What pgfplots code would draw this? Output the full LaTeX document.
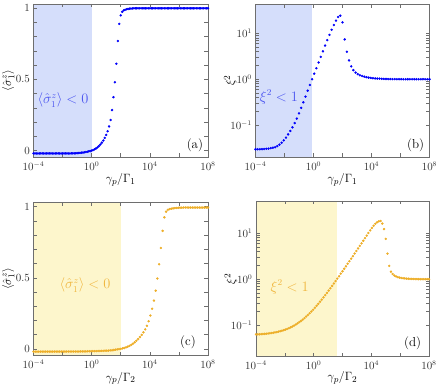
\documentclass[border=0pt]{standalone}
\usepackage{pgfplots}
\pgfplotsset{compat=1.18}
\usepackage{amsmath}

\definecolor{dotblue}{RGB}{0,0,250}
\definecolor{shadeblue}{RGB}{213,222,251}
\definecolor{textblue}{RGB}{75,85,240}
\definecolor{dotorange}{RGB}{237,174,40}
\definecolor{shadeyellow}{RGB}{253,246,204}
\definecolor{textorange}{RGB}{240,182,62}
\definecolor{framegray}{RGB}{110,110,110}

\pgfplotsset{
  panel/.style={
    scale only axis, width=174.5pt, height=153pt,
    anchor=south west,
    xmin=1e-4, xmax=1e8,
    xtick={1e-4,1,1e4,1e8}, minor xtick={1e-2,1e2,1e6},
    tick align=inside, major tick length=3.5pt, minor tick length=3.5pt,
    axis line style={framegray, line width=0.7pt},
    every tick/.style={framegray, line width=0.6pt},
    tick label style={font=\fontsize{10.5}{12}\selectfont, text=black!80},
    xticklabel style={yshift=-1pt},
    label style={font=\fontsize{12.5}{14}\selectfont},
    xlabel style={at={(axis description cs:0.5,-0.15)}, anchor=center},
    ylabel style={at={(axis description cs:-0.145,0.5)}, anchor=center},
    axis on top,
  },
  lin/.style={ymin=-0.045, ymax=1.03, ytick={0,0.5,1}, minor y tick num=4},
  lg/.style={ymin=0.02, ymax=44, ytick={0.1,1,10}},
  pts/.style={only marks, mark=*, mark size=1pt, color=#1, mark options={draw=#1, fill=#1}},
}
\tikzset{
  rtext/.style={font=\fontsize{13.5}{15}\selectfont, text=#1},
  plab/.style={font=\fontsize{13}{15}\selectfont, text=black},
}

\begin{document}
\begin{tikzpicture}
\path[use as bounding box] (0,0) rectangle (436pt,391pt);

% (a)
\begin{axis}[xmode=log, panel, lin, at={(33.5pt,234pt)},
  xlabel={$\gamma_p/\Gamma_1$}, ylabel={$\langle\hat{\sigma}_1^z\rangle$}]
\addplot[fill=shadeblue, draw=none] coordinates {(1e-4,-0.045) (1,-0.045) (1,1.03) (1e-4,1.03)};
\addplot[pts=dotblue] table[x expr={10^(\thisrow{e})}, y=y, row sep=\\] {
e y\\
-4.0 -0.020\\ -3.9 -0.020\\ -3.8 -0.020\\ -3.7 -0.020\\ -3.6 -0.020\\ -3.5 -0.020\\ -3.4 -0.020\\ -3.3 -0.020\\
-3.2 -0.020\\ -3.1 -0.020\\ -3.0 -0.020\\ -2.9 -0.020\\ -2.8 -0.020\\ -2.7 -0.020\\ -2.6 -0.020\\ -2.5 -0.020\\
-2.4 -0.020\\ -2.3 -0.020\\ -2.2 -0.020\\ -2.1 -0.020\\ -2.0 -0.020\\ -1.9 -0.020\\ -1.8 -0.020\\ -1.7 -0.020\\
-1.6 -0.020\\ -1.5 -0.020\\ -1.4 -0.019\\ -1.3 -0.019\\ -1.2 -0.019\\ -1.1 -0.019\\ -1.0 -0.018\\ -0.9 -0.017\\
-0.8 -0.016\\ -0.7 -0.015\\ -0.6 -0.014\\ -0.5 -0.012\\ -0.4 -0.010\\ -0.3 -0.008\\ -0.2 -0.005\\ -0.1 -0.003\\
0.0 0.000\\ 0.1 0.004\\ 0.2 0.009\\ 0.3 0.015\\ 0.4 0.023\\ 0.5 0.032\\ 0.6 0.043\\ 0.7 0.056\\
0.8 0.071\\ 0.9 0.089\\ 1.0 0.110\\ 1.1 0.136\\ 1.2 0.170\\ 1.3 0.215\\ 1.4 0.285\\ 1.5 0.375\\
1.6 0.480\\ 1.7 0.610\\ 1.8 0.770\\ 1.9 0.890\\ 2.0 0.950\\ 2.1 0.975\\ 2.2 0.985\\ 2.3 0.990\\
2.4 0.993\\ 2.5 0.995\\ 2.6 0.997\\ 2.7 0.998\\ 2.8 0.999\\ 2.9 1.000\\ 3.0 1.000\\ 3.1 1.000\\
3.2 1.000\\ 3.3 1.000\\ 3.4 1.000\\ 3.5 1.000\\ 3.6 1.000\\ 3.7 1.000\\ 3.8 1.000\\ 3.9 1.000\\
4.0 1.000\\ 4.1 1.000\\ 4.2 1.000\\ 4.3 1.000\\ 4.4 1.000\\ 4.5 1.000\\ 4.6 1.000\\ 4.7 1.000\\
4.8 1.000\\ 4.9 1.000\\ 5.0 1.000\\ 5.1 1.000\\ 5.2 1.000\\ 5.3 1.000\\ 5.4 1.000\\ 5.5 1.000\\
5.6 1.000\\ 5.7 1.000\\ 5.8 1.000\\ 5.9 1.000\\ 6.0 1.000\\ 6.1 1.000\\ 6.2 1.000\\ 6.3 1.000\\
6.4 1.000\\ 6.5 1.000\\ 6.6 1.000\\ 6.7 1.000\\ 6.8 1.000\\ 6.9 1.000\\ 7.0 1.000\\ 7.1 1.000\\
7.2 1.000\\ 7.3 1.000\\ 7.4 1.000\\ 7.5 1.000\\ 7.6 1.000\\ 7.7 1.000\\ 7.8 1.000\\ 7.9 1.000\\
8.0 1.000\\
};
\node[rtext=textblue] at (rel axis cs:0.169,0.373) {$\langle\hat{\sigma}_1^z\rangle<0$};
\node[plab] at (rel axis cs:0.925,0.08) {(a)};
\end{axis}

% (b)
\begin{axis}[xmode=log, ymode=log, panel, lg, width=174pt, at={(255.5pt,234pt)},
  xlabel={$\gamma_p/\Gamma_1$}, ylabel={$\xi^2$}]
\addplot[fill=shadeblue, draw=none] coordinates {(1e-4,0.02) (0.79,0.02) (0.79,44) (1e-4,44)};
\addplot[pts=dotblue] table[x expr={10^(\thisrow{e})}, y=y, row sep=\\] {
e y\\
-4.00 0.0295\\ -3.85 0.0295\\ -3.70 0.0295\\ -3.55 0.0296\\ -3.40 0.0299\\ -3.25 0.0302\\ -3.10 0.0305\\ -2.95 0.0313\\
-2.80 0.0320\\ -2.65 0.0327\\ -2.50 0.0347\\ -2.35 0.0372\\ -2.20 0.0410\\ -2.05 0.0462\\ -1.90 0.0531\\ -1.75 0.0624\\
-1.60 0.0741\\ -1.45 0.0891\\ -1.30 0.110\\ -1.15 0.138\\ -1.00 0.180\\ -0.85 0.237\\ -0.70 0.313\\ -0.55 0.417\\
-0.40 0.562\\ -0.25 0.750\\ -0.10 1.00\\ 0.05 1.32\\ 0.20 1.74\\ 0.35 2.32\\ 0.50 3.09\\ 0.65 4.07\\
0.80 5.43\\ 0.95 7.16\\ 1.10 9.33\\ 1.25 12.0\\ 1.40 15.3\\ 1.55 19.1\\ 1.70 22.9\\ 1.85 24.5\\
2.00 17.4\\ 2.15 7.41\\ 2.30 3.98\\ 2.45 2.57\\ 2.60 1.91\\ 2.75 1.58\\ 2.90 1.40\\ 3.05 1.29\\
3.20 1.22\\ 3.35 1.175\\ 3.50 1.135\\ 3.65 1.11\\ 3.80 1.084\\ 3.95 1.067\\ 4.10 1.052\\ 4.25 1.042\\
4.40 1.035\\ 4.55 1.028\\ 4.70 1.021\\ 4.85 1.016\\ 5.00 1.012\\ 5.15 1.009\\ 5.30 1.007\\ 5.45 1.005\\
5.60 1.003\\ 5.75 1.002\\ 5.90 1.001\\ 6.05 1.000\\ 6.20 1.000\\ 6.35 1.000\\ 6.50 1.000\\ 6.65 1.000\\
6.80 1.000\\ 6.95 1.000\\ 7.10 1.000\\ 7.25 1.000\\ 7.40 1.000\\ 7.55 1.000\\ 7.70 1.000\\ 7.85 1.000\\
8.00 1.000\\
};
\node[rtext=textblue] at (rel axis cs:0.135,0.392) {$\xi^2<1$};
\node[plab] at (rel axis cs:0.92,0.08) {(b)};
\end{axis}

% (c)
\begin{axis}[xmode=log, panel, lin, at={(33.5pt,35.6pt)},
  xlabel={$\gamma_p/\Gamma_2$}, ylabel={$\langle\hat{\sigma}_1^z\rangle$}]
\addplot[fill=shadeyellow, draw=none] coordinates {(1e-4,-0.045) (100,-0.045) (100,1.03) (1e-4,1.03)};
\addplot[pts=dotorange] table[x expr={10^(\thisrow{e})}, y=y, row sep=\\] {
e y\\
-4.00 -0.018\\ -3.88 -0.018\\ -3.76 -0.018\\ -3.64 -0.018\\ -3.52 -0.018\\ -3.40 -0.018\\ -3.28 -0.018\\ -3.16 -0.018\\
-3.04 -0.018\\ -2.92 -0.018\\ -2.80 -0.018\\ -2.68 -0.018\\ -2.56 -0.018\\ -2.44 -0.018\\ -2.32 -0.018\\ -2.20 -0.018\\
-2.08 -0.018\\ -1.96 -0.018\\ -1.84 -0.018\\ -1.72 -0.018\\ -1.60 -0.018\\ -1.48 -0.018\\ -1.36 -0.018\\ -1.24 -0.018\\
-1.12 -0.018\\ -1.00 -0.018\\ -0.88 -0.018\\ -0.76 -0.017\\ -0.64 -0.017\\ -0.52 -0.017\\ -0.40 -0.017\\ -0.28 -0.016\\
-0.16 -0.016\\ -0.04 -0.016\\ 0.08 -0.015\\ 0.20 -0.015\\ 0.32 -0.015\\ 0.44 -0.014\\ 0.56 -0.014\\ 0.68 -0.013\\
0.80 -0.013\\ 0.92 -0.012\\ 1.04 -0.012\\ 1.16 -0.011\\ 1.28 -0.010\\ 1.40 -0.009\\ 1.52 -0.007\\ 1.64 -0.005\\
1.76 -0.003\\ 1.88 -0.001\\ 2.00 0.001\\ 2.12 0.004\\ 2.24 0.007\\ 2.36 0.011\\ 2.48 0.016\\ 2.60 0.022\\
2.72 0.029\\ 2.84 0.037\\ 2.96 0.047\\ 3.08 0.058\\ 3.20 0.070\\ 3.32 0.084\\ 3.44 0.099\\ 3.56 0.117\\
3.68 0.138\\ 3.80 0.163\\ 3.92 0.195\\ 4.04 0.235\\ 4.16 0.283\\ 4.28 0.340\\ 4.40 0.410\\ 4.52 0.495\\
4.64 0.595\\ 4.76 0.710\\ 4.88 0.830\\ 5.00 0.925\\ 5.12 0.965\\ 5.24 0.978\\ 5.36 0.983\\ 5.48 0.986\\
5.60 0.988\\ 5.72 0.990\\ 5.84 0.991\\ 5.96 0.992\\ 6.08 0.993\\ 6.20 0.993\\ 6.32 0.994\\ 6.44 0.994\\
6.56 0.994\\ 6.68 0.994\\ 6.80 0.994\\ 6.92 0.994\\ 7.04 0.994\\ 7.16 0.994\\ 7.28 0.994\\ 7.40 0.994\\
7.52 0.994\\ 7.64 0.994\\ 7.76 0.994\\ 7.88 0.994\\ 8.00 0.994\\
};
\node[rtext=textorange] at (rel axis cs:0.295,0.46) {$\langle\hat{\sigma}_1^z\rangle<0$};
\node[plab] at (rel axis cs:0.885,0.088) {(c)};
\end{axis}

% (d)
\begin{axis}[xmode=log, ymode=log, panel, lg, ymin=0.021, ymax=50,
  width=173pt, height=155.5pt, at={(256pt,34.5pt)},
  xlabel={$\gamma_p/\Gamma_2$}, ylabel={$\xi^2$},
  xlabel style={at={(axis description cs:0.5,-0.14)}}]
\addplot[fill=shadeyellow, draw=none] coordinates {(1e-4,0.021) (41,0.021) (41,50) (1e-4,50)};
\addplot[pts=dotorange] table[x expr={10^(\thisrow{e})}, y=y, row sep=\\] {
e y\\
-4.00 0.0632\\ -3.88 0.0635\\ -3.76 0.0638\\ -3.64 0.0642\\ -3.52 0.0646\\ -3.40 0.0651\\ -3.28 0.0657\\ -3.16 0.0664\\
-3.04 0.0671\\ -2.92 0.0680\\ -2.80 0.0689\\ -2.68 0.0700\\ -2.56 0.0713\\ -2.44 0.0727\\ -2.32 0.0743\\ -2.20 0.0762\\
-2.08 0.0783\\ -1.96 0.0807\\ -1.84 0.0834\\ -1.72 0.0865\\ -1.60 0.0900\\ -1.48 0.0940\\ -1.36 0.0987\\ -1.24 0.104\\
-1.12 0.110\\ -1.00 0.117\\ -0.88 0.124\\ -0.76 0.133\\ -0.64 0.143\\ -0.52 0.155\\ -0.40 0.167\\ -0.28 0.182\\
-0.16 0.199\\ -0.04 0.218\\ 0.08 0.240\\ 0.20 0.265\\ 0.32 0.293\\ 0.44 0.325\\ 0.56 0.362\\ 0.68 0.404\\
0.80 0.451\\ 0.92 0.505\\ 1.04 0.567\\ 1.16 0.636\\ 1.28 0.717\\ 1.40 0.807\\ 1.52 0.911\\ 1.64 1.03\\
1.76 1.16\\ 1.88 1.32\\ 2.00 1.49\\ 2.12 1.69\\ 2.24 1.91\\ 2.36 2.17\\ 2.48 2.46\\ 2.60 2.80\\
2.72 3.17\\ 2.84 3.61\\ 2.96 4.10\\ 3.08 4.66\\ 3.20 5.30\\ 3.32 6.02\\ 3.44 6.85\\ 3.56 7.79\\
3.68 8.87\\ 3.80 10.1\\ 3.92 11.5\\ 4.04 13.0\\ 4.16 14.5\\ 4.28 16.0\\ 4.40 17.2\\ 4.52 18.1\\
4.64 18.4\\ 4.76 16.2\\ 4.88 12.3\\ 5.00 7.5\\ 5.12 3.6\\ 5.24 1.95\\ 5.36 1.46\\ 5.48 1.30\\
5.60 1.20\\ 5.72 1.15\\ 5.84 1.11\\ 5.96 1.085\\ 6.08 1.065\\ 6.20 1.05\\ 6.32 1.04\\ 6.44 1.032\\
6.56 1.025\\ 6.68 1.02\\ 6.80 1.015\\ 6.92 1.012\\ 7.04 1.009\\ 7.16 1.007\\ 7.28 1.005\\ 7.40 1.004\\
7.52 1.003\\ 7.64 1.002\\ 7.76 1.001\\ 7.88 1.001\\ 8.00 1.000\\
};
\node[rtext=textorange] at (rel axis cs:0.195,0.447) {$\xi^2<1$};
\node[plab] at (rel axis cs:0.905,0.088) {(d)};
\end{axis}
\end{tikzpicture}
\end{document}
